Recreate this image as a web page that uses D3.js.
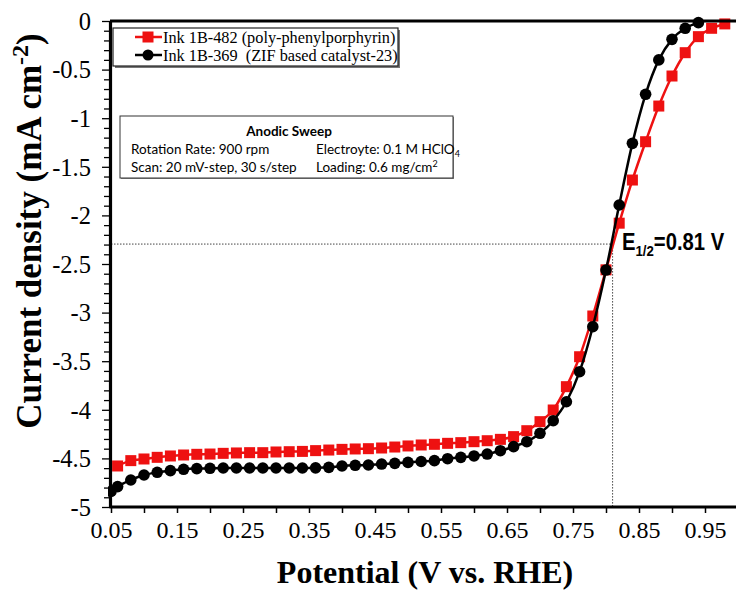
<!DOCTYPE html>
<html>
<head>
<meta charset="utf-8">
<script src="https://cdn.jsdelivr.net/npm/d3@7"></script>
<style>
  html, body { margin: 0; padding: 0; background: #fff; }
  svg { display: block; }
</style>
</head>
<body>
<svg id="chart" width="736" height="590"></svg>
<script>
// ---------------- DATA ----------------
const redName = "Ink 1B-482 (poly-phenylporphyrin)";
const blackName = "Ink 1B-369  (ZIF based catalyst-23)";

const redPotential = [0.06,0.08,0.10,0.12,0.14,0.16,0.18,0.20,0.22,0.24,0.26,0.28,0.30,0.32,0.34,0.36,0.38,0.40,0.42,0.44,0.46,0.48,0.50,0.52,0.54,0.56,0.58,0.60,0.62,0.64,0.66,0.68,0.70,0.72,0.74,0.76,0.78,0.80,0.82,0.84,0.86,0.88,0.90,0.92,0.94,0.96,0.98];
const redCurrent = [-4.578,-4.523,-4.506,-4.489,-4.475,-4.465,-4.458,-4.455,-4.448,-4.444,-4.441,-4.441,-4.434,-4.431,-4.428,-4.420,-4.414,-4.407,-4.403,-4.400,-4.393,-4.383,-4.372,-4.362,-4.355,-4.345,-4.338,-4.328,-4.318,-4.304,-4.276,-4.215,-4.122,-4.002,-3.762,-3.454,-3.035,-2.560,-2.080,-1.636,-1.242,-0.875,-0.566,-0.326,-0.161,-0.075,-0.030];

const blackPotential = [0.05,0.06,0.08,0.10,0.12,0.14,0.16,0.18,0.20,0.22,0.24,0.26,0.28,0.30,0.32,0.34,0.36,0.38,0.40,0.42,0.44,0.46,0.48,0.50,0.52,0.54,0.56,0.58,0.60,0.62,0.64,0.66,0.68,0.70,0.72,0.74,0.76,0.78,0.80,0.82,0.84,0.86,0.88,0.90,0.92,0.94];
const blackCurrent = [-4.84,-4.79,-4.722,-4.671,-4.643,-4.626,-4.612,-4.605,-4.602,-4.599,-4.599,-4.599,-4.599,-4.599,-4.599,-4.599,-4.597,-4.592,-4.578,-4.571,-4.568,-4.558,-4.551,-4.541,-4.532,-4.523,-4.503,-4.489,-4.475,-4.455,-4.421,-4.379,-4.328,-4.242,-4.112,-3.917,-3.608,-3.145,-2.562,-1.893,-1.259,-0.754,-0.400,-0.189,-0.075,-0.017];

const xTickLabels = ["0.05","0.15","0.25","0.35","0.45","0.55","0.65","0.75","0.85","0.95"];
const yTickLabels = ["0","-0.5","-1","-1.5","-2","-2.5","-3","-3.5","-4","-4.5","-5"];

const halfWavePotential = 0.81;
const halfWaveCurrent = -2.295;

const infoTitle = "Anodic Sweep";
const infoLeft = ["Rotation Rate: 900 rpm", "Scan: 20 mV-step, 30 s/step"];

// ---------------- SCALES ----------------
const svg = d3.select("#chart");
const x = d3.scaleLinear().domain([0.05, 1.0]).range([111, 738]);
const y = d3.scaleLinear().domain([-5, 0]).range([507, 21]);

const serif = "'Liberation Serif','Times New Roman',serif";
const sans = "Lato,'Open Sans','Noto Sans',sans-serif";

// dotted E1/2 guides
svg.append("line")
  .attr("x1", x(0.05)).attr("x2", x(halfWavePotential))
  .attr("y1", y(halfWaveCurrent)).attr("y2", y(halfWaveCurrent))
  .attr("stroke", "#444").attr("stroke-width", 1).attr("stroke-dasharray", "1.5,1.5");
svg.append("line")
  .attr("x1", x(halfWavePotential)).attr("x2", x(halfWavePotential))
  .attr("y1", y(halfWaveCurrent)).attr("y2", y(-5))
  .attr("stroke", "#444").attr("stroke-width", 1).attr("stroke-dasharray", "1.5,1.5");

// ---------------- SERIES ----------------
const redData = redPotential.map((p, i) => ({p, c: redCurrent[i]}));
const blackData = blackPotential.map((p, i) => ({p, c: blackCurrent[i]}));

const line = d3.line().x(d => x(d.p)).y(d => y(d.c)).curve(d3.curveMonotoneX);

svg.append("defs").append("clipPath").attr("id", "plotclip")
  .append("rect").attr("x", 108).attr("y", 10).attr("width", 640).attr("height", 500);

const plot = svg.append("g").attr("clip-path", "url(#plotclip)");

plot.append("path").datum(redData).attr("d", line)
  .attr("fill", "none").attr("stroke", "#ee1111").attr("stroke-width", 2.5);
plot.selectAll("rect.red").data(redData).enter().append("rect")
  .attr("class", "red")
  .attr("x", d => x(d.p) - 5.5).attr("y", d => y(d.c) - 5.5)
  .attr("width", 11).attr("height", 11).attr("fill", "#ee1111");

plot.append("path").datum(blackData).attr("d", line)
  .attr("fill", "none").attr("stroke", "#000").attr("stroke-width", 2.5);
plot.selectAll("circle.blk").data(blackData).enter().append("circle")
  .attr("class", "blk")
  .attr("cx", d => x(d.p)).attr("cy", d => y(d.c)).attr("r", 5.8).attr("fill", "#000");

// ---------------- AXES ----------------
svg.append("line").attr("x1", x(0.05) - 1).attr("x2", 736).attr("y1", y(0)).attr("y2", y(0))
  .attr("stroke", "#000").attr("stroke-width", 3);

const xAxis = d3.axisBottom(x)
  .tickValues(d3.range(0.05, 1.0001, 0.05))
  .tickSize(6).tickSizeOuter(0)
  .tickFormat(d => {
    const s = d.toFixed(2);
    return xTickLabels.includes(s) ? s : "";
  });
const gx = svg.append("g").attr("transform", `translate(0,${y(-5)})`).call(xAxis);
gx.select(".domain").attr("stroke-width", 3.2).attr("d", `M${x(0.05)-1.5},0H740`);
gx.selectAll(".tick line").attr("stroke-width", 1.5);
gx.selectAll(".tick text").attr("font-family", serif).attr("font-size", 24)
  .attr("fill", "#000").attr("dy", "0.78em").attr("y", 12);

const yMinor = d3.range(0, 51).map(i => -i / 10);
const yAxis = d3.axisLeft(y)
  .tickValues(yMinor)
  .tickSize(6).tickSizeOuter(0)
  .tickFormat(d => {
    const lbl = (Math.round(d * 10) / 10).toString();
    return (Math.abs(d * 2 - Math.round(d * 2)) < 1e-6 && yTickLabels.includes(lbl)) ? lbl : "";
  });
const gy = svg.append("g").attr("transform", `translate(${x(0.05) - 1},0)`).call(yAxis);
gy.select(".domain").attr("stroke-width", 3.2);
gy.selectAll(".tick line").attr("stroke-width", 1.3)
  .attr("x2", d => (Math.abs(d * 2 - Math.round(d * 2)) < 1e-6) ? -8 : -6);
gy.selectAll(".tick text").attr("font-family", serif).attr("font-size", 24.5)
  .attr("fill", "#000").attr("x", -19).attr("dy", "0.34em");

// axis titles
svg.append("text").attr("x", 425).attr("y", 583).attr("text-anchor", "middle")
  .attr("font-family", serif).attr("font-weight", "bold").attr("font-size", 32)
  .text("Potential (V vs. RHE)");

const yt = svg.append("text").attr("transform", "translate(41,231) rotate(-90)")
  .attr("text-anchor", "middle").attr("font-family", serif).attr("font-weight", "bold")
  .attr("font-size", 35);
yt.append("tspan").text("Current density (mA cm");
yt.append("tspan").attr("dy", -13).attr("font-size", 24).text("-2");
yt.append("tspan").attr("dy", 13).text(")");

// ---------------- LEGEND ----------------
const lg = svg.append("g");
lg.append("rect").attr("x", 115).attr("y", 30).attr("width", 285).attr("height", 38).attr("fill", "#777");
lg.append("rect").attr("x", 113).attr("y", 28).attr("width", 285).attr("height", 38)
  .attr("fill", "#fff").attr("stroke", "#222").attr("stroke-width", 1.2);
const legendItems = [
  {name: redName, color: "#ee1111", shape: "square", yy: 37},
  {name: blackName, color: "#000", shape: "circle", yy: 55}
];
legendItems.forEach(it => {
  lg.append("line").attr("x1", 135).attr("x2", 162).attr("y1", it.yy).attr("y2", it.yy)
    .attr("stroke", it.color).attr("stroke-width", 2.5);
  if (it.shape === "square") {
    lg.append("rect").attr("x", 148 - 5.5).attr("y", it.yy - 5.5).attr("width", 11).attr("height", 11).attr("fill", it.color);
  } else {
    lg.append("circle").attr("cx", 148).attr("cy", it.yy).attr("r", 5.5).attr("fill", it.color);
  }
  lg.append("text").attr("x", 163).attr("y", it.yy + 5.5).attr("font-family", serif)
    .attr("font-size", 16.3).attr("fill", "#000").style("white-space", "pre").text(it.name);
});

// ---------------- INFO BOX ----------------
const ib = svg.append("g");
ib.append("rect").attr("x", 121).attr("y", 117).attr("width", 333).attr("height", 62).attr("fill", "#888");
ib.append("rect").attr("x", 120).attr("y", 116).attr("width", 333).attr("height", 62)
  .attr("fill", "#fff").attr("stroke", "#333").attr("stroke-width", 1);
ib.append("text").attr("x", 289).attr("y", 136).attr("text-anchor", "middle")
  .attr("font-family", sans).attr("font-weight", "bold").attr("font-size", 13.5).text(infoTitle);
infoLeft.forEach((t, i) => {
  ib.append("text").attr("x", 131).attr("y", 154 + i * 18).attr("font-family", sans)
    .attr("font-size", 13.5).text(t);
});
const el = ib.append("text").attr("x", 316).attr("y", 154).attr("font-family", sans).attr("font-size", 13.5);
el.append("tspan").text("Electroyte: 0.1 M HClO");
el.append("tspan").attr("dy", 3).attr("font-size", 9).text("4");
const ld = ib.append("text").attr("x", 316).attr("y", 172).attr("font-family", sans).attr("font-size", 13.5);
ld.append("tspan").text("Loading: 0.6 mg/cm");
ld.append("tspan").attr("dy", -5).attr("font-size", 9).text("2");

// ---------------- E1/2 LABEL ----------------
const eg = svg.append("g").attr("transform", "translate(622,250) scale(0.88,1)");
const et = eg.append("text").attr("font-family", "'Liberation Sans',Arial,sans-serif")
  .attr("font-weight", "bold").attr("font-size", 23).attr("fill", "#000");
et.append("tspan").text("E");
et.append("tspan").attr("font-size", 15).attr("dy", 6).text("1/2");
et.append("tspan").attr("dy", -6).text("=0.81 V");
</script>
</body>
</html>
